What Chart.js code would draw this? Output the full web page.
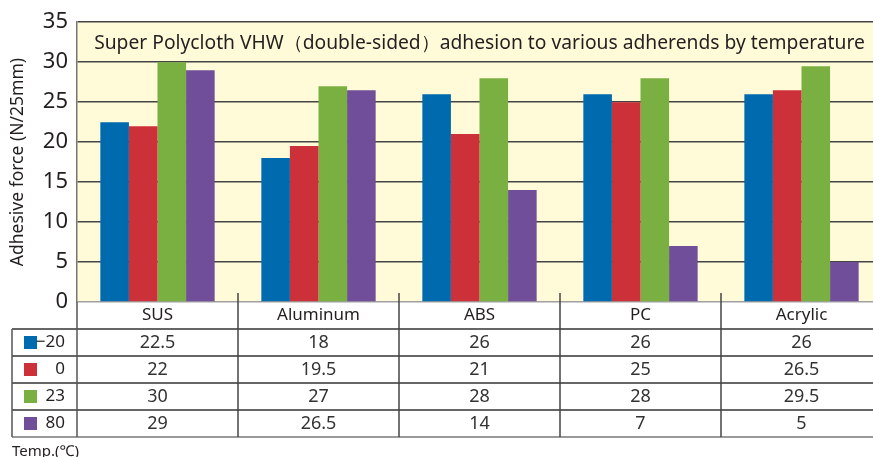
<!DOCTYPE html>
<html>
<head>
<meta charset="utf-8">
<script src="https://cdn.jsdelivr.net/npm/chart.js@4"></script>
<style>
  html, body { margin: 0; padding: 0; background: #fff; overflow: hidden; }
  #wrap { width: 884px; height: 457px; }
</style>
</head>
<body>
<div id="wrap"><canvas id="chart" width="884" height="457"></canvas></div>
<script>
const materials = ['SUS', 'Aluminum', 'ABS', 'PC', 'Acrylic'];
const temps = ['\u221220', '0', '23', '80'];
const minus20 = [22.5, 18, 26, 26, 26];
const zero = [22, 19.5, 21, 25, 26.5];
const t23 = [30, 27, 28, 28, 29.5];
const t80 = [29, 26.5, 14, 7, 5];
const tableText = [
  ['22.5', '18', '26', '26', '26'],
  ['22', '19.5', '21', '25', '26.5'],
  ['30', '27', '28', '28', '29.5'],
  ['29', '26.5', '14', '7', '5']
];
const colors = ['#006aae', '#cc3139', '#7aaf41', '#704e99'];
const chartTitle = 'Super Polycloth VHW\uff08double-sided\uff09adhesion to various adherends by temperature';

const FONT = '"Noto Sans", "Open Sans", sans-serif';

const extras = {
  id: 'extras',
  beforeDraw(chart) {
    const { ctx, chartArea: a } = chart;
    ctx.save();
    ctx.fillStyle = '#fffbd8';
    ctx.fillRect(a.left, a.top, a.right - a.left, a.bottom - a.top);
    ctx.restore();
  },
  afterDraw(chart) {
    const { ctx, chartArea: a, scales } = chart;
    const x = scales.x;
    const rowH = 27;
    const headTop = a.bottom;
    const tableTop = headTop + 27;
    const tableBottom = tableTop + rowH * 4;
    const step = x.getPixelForValue(1) - x.getPixelForValue(0);
    ctx.save();

    // chart title inside plot
    ctx.fillStyle = '#231f20';
    ctx.font = '19.25px ' + FONT;
    ctx.textAlign = 'center';
    ctx.textBaseline = 'middle';
    ctx.fillText(chartTitle, (a.left + a.right) / 2, scales.y.getPixelForValue(32.5) + 1);

    // table horizontal lines
    ctx.lineWidth = 1.5;
    for (let r = 0; r <= 4; r++) {
      const yy = tableTop + r * rowH;
      ctx.strokeStyle = r === 4 ? '#777' : '#333';
      ctx.beginPath();
      ctx.moveTo(12, yy);
      ctx.lineTo(a.right, yy);
      ctx.stroke();
    }
    // left borders
    ctx.strokeStyle = '#555';
    ctx.beginPath();
    ctx.moveTo(12, tableTop);
    ctx.lineTo(12, tableBottom);
    ctx.moveTo(a.left, headTop);
    ctx.lineTo(a.left, tableBottom);
    ctx.stroke();
    // column dividers
    ctx.strokeStyle = '#444';
    for (let i = 1; i < materials.length; i++) {
      const xx = x.getPixelForValue(i) - step / 2;
      ctx.beginPath();
      ctx.moveTo(xx, a.bottom - 9);
      ctx.lineTo(xx, tableBottom);
      ctx.stroke();
    }

    // legend cells and values
    ctx.textBaseline = 'middle';
    for (let r = 0; r < 4; r++) {
      const cy = tableTop + r * rowH + rowH / 2;
      ctx.fillStyle = colors[r];
      ctx.fillRect(24, cy - 6.5, 13, 13);
      ctx.fillStyle = '#231f20';
      ctx.font = '17px ' + FONT;
      ctx.textAlign = 'right';
      ctx.fillText(temps[r], 65, cy);
      ctx.font = '18px ' + FONT;
      ctx.fillStyle = '#333';
      ctx.textAlign = 'center';
      for (let c = 0; c < materials.length; c++) {
        ctx.fillText(tableText[r][c], x.getPixelForValue(c), cy);
      }
    }

    ctx.font = '15px ' + FONT;
    ctx.fillStyle = '#231f20';
    ctx.textAlign = 'left';
    ctx.fillText('Temp.(\u2103)', 12, tableBottom + 15);
    ctx.restore();
  }
};

new Chart(document.getElementById('chart'), {
  type: 'bar',
  data: {
    labels: materials,
    datasets: [
      { label: temps[0], data: minus20, backgroundColor: colors[0] },
      { label: temps[1], data: zero, backgroundColor: colors[1] },
      { label: temps[2], data: t23, backgroundColor: colors[2] },
      { label: temps[3], data: t80, backgroundColor: colors[3] }
    ]
  },
  options: {
    responsive: false,
    animation: false,
    layout: { padding: { top: 20, right: 2, left: 0, bottom: 0 } },
    datasets: { bar: { categoryPercentage: 0.71, barPercentage: 1.0 } },
    plugins: { legend: { display: false }, tooltip: { enabled: false } },
    scales: {
      x: {
        grid: { display: false, drawTicks: false },
        border: { display: false },
        ticks: { color: '#231f20', font: { family: FONT, size: 17 }, padding: 3 },
        afterFit(scale) { scale.height = 155; }
      },
      y: {
        min: 0,
        max: 35,
        ticks: { stepSize: 5, color: '#231f20', font: { family: FONT, size: 22 }, padding: 9 },
        grid: {
          drawTicks: false,
          lineWidth: 1.5,
          color: (c) => c.tick && c.tick.value === 0 ? '#a0a0a0' : '#444'
        },
        border: { display: true, color: '#777', width: 1.5 },
        title: {
          display: true,
          text: 'Adhesive force (N/25mm)',
          color: '#231f20',
          font: { family: FONT, size: 17.5 },
          padding: { top: 8, bottom: 0 }
        },
        afterFit(scale) { scale.width = 77; }
      }
    }
  },
  plugins: [extras]
});
</script>
</body>
</html>
